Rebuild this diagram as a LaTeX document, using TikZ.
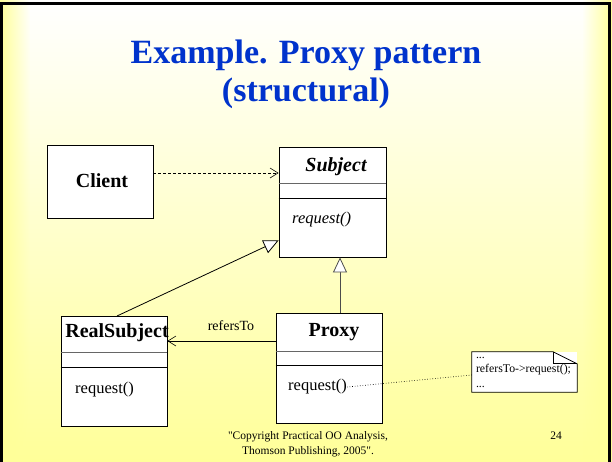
\documentclass[tikz,border=0pt]{standalone}
\usepackage{fontspec}
\setmainfont{Liberation Serif}[Ligatures=TeXOff]
\usetikzlibrary{arrows.meta,calc,fadings}

\definecolor{slideyellow}{RGB}{255,255,153}
\definecolor{titleblue}{RGB}{0,51,204}

\tikzfading[name=fadeleftedge, left color=transparent!0, right color=transparent!100]
\tikzfading[name=faderightedge, left color=transparent!100, right color=transparent!0]

\tikzset{
  classbox/.style={draw, fill=white, line width=0.8pt, minimum width=106pt,
    minimum height=110pt, inner sep=0pt},
  classname/.style={font=\fontsize{20}{24}\selectfont\bfseries, inner sep=0pt},
  opname/.style={font=\fontsize{16.5}{20}\selectfont, inner sep=0pt, anchor=west},
  inherits/.style={-{Triangle[length=15pt,width=14pt,fill=white]}, line width=0.8pt},
  navigates/.style={-{Straight Barb[length=8pt,width=10pt]}, line width=0.6pt},
}

\begin{document}
\begin{tikzpicture}[x=1pt, y=-1pt]
  \useasboundingbox (0,0) rectangle (612,461);
  \clip (0,0) rectangle (612,461);

  % Slide background
  \fill[white] (0,0) rectangle (612,461);
  \shade[top color=white, bottom color=slideyellow] (0,0) rectangle (612,461);
  \fill[slideyellow, path fading=fadeleftedge] (0,0) rectangle (30,461);
  \fill[slideyellow, path fading=faderightedge] (582,0) rectangle (612,461);
  \draw[line width=2.8pt] (1.5,3.2) rectangle (609.8,480);

  % Title
  \node[font=\fontsize{34}{38}\selectfont\bfseries, text=titleblue, anchor=base]
    (title) at (306,63) {Example. Proxy pattern};
  \node[font=\fontsize{34}{38}\selectfont\bfseries, text=titleblue, anchor=base]
    (subtitle) at (306,101) {(structural)};

  % Client
  \node[classbox, minimum height=73pt] (client) at (100,181.5) {};
  \node[classname] (clientname) at (102,181) {Client};

  % Subject
  \node[classbox, minimum width=107pt] (subject) at (332.5,202) {};
  \draw[black!60] ($(subject.north west)+(0,37)$) -- ($(subject.north east)+(0,37)$);
  \draw ($(subject.north west)+(0,52)$) -- ($(subject.north east)+(0,52)$);
  \node[classname, font=\fontsize{20}{24}\selectfont\bfseries\itshape]
    (subjectname) at (336,167) {Subject};
  \node[opname, font=\fontsize{16.5}{20}\selectfont\itshape]
    (subjectop) at (292,220) {request()};

  % RealSubject
  \node[classbox] (realsubject) at (114,371) {};
  \draw[black!60] ($(realsubject.north west)+(0,37)$) -- ($(realsubject.north east)+(0,37)$);
  \draw ($(realsubject.north west)+(0,52)$) -- ($(realsubject.north east)+(0,52)$);
  \node[classname] (realname) at (117,333) {RealSubject};
  \node[opname] (realop) at (75,390) {request()};

  % Proxy
  \node[classbox] (proxy) at (329,368) {};
  \draw[black!60] ($(proxy.north west)+(0,39)$) -- ($(proxy.north east)+(0,39)$);
  \draw ($(proxy.north west)+(0,53)$) -- ($(proxy.north east)+(0,53)$);
  \node[classname] (proxyname) at (334,332) {Proxy};
  \node[opname] (proxyop) at (288,387) {request()};

  % Note
  \node[fill=white, minimum width=105pt, minimum height=40pt, text width=97pt,
    inner xsep=4pt, inner ysep=0pt, align=left,
    font=\fontsize{11.8}{14.5}\selectfont] (note) at (524.5,372)
    {...\\refersTo->request();\\...};
  \draw[line width=0.8pt] (note.north west) -- ($(note.north east)+(-24,0)$)
    -- ($(note.north east)+(0,12)$) -- (note.south east) -- (note.south west) -- cycle;
  \draw[line width=0.8pt] ($(note.north east)+(-24,0)$) |- ($(note.north east)+(0,12)$);

  % Connectors
  \coordinate (clientout) at ($(client.east)+(0,-8.5)$);
  \draw[navigates, dash pattern=on 3pt off 2pt] (clientout) -- (clientout -| subject.west);
  \coordinate (proxytop) at (340,313);
  \draw[inherits, black!70] (proxytop) -- (proxytop |- subject.south);
  \coordinate (realtop) at (117,316);
  \coordinate (subjectin) at ($(subject.south west)+(0,-17)$);
  \draw[inherits] (realtop) -- (subjectin);
  \coordinate (proxyout) at (276,341);
  \draw[navigates] (proxyout) -- (proxyout -| realsubject.east);
  \node[font=\fontsize{14}{16}\selectfont] (refersto) at (231,326) {refersTo};
  \draw[dotted, line width=0.6pt] (proxyop.east) -- ($(note.west)+(0,3)$);

  % Footer
  \node[font=\fontsize{11.5}{15}\selectfont, align=center] (copyright) at (308,444)
    {"Copyright Practical OO Analysis,\\Thomson Publishing, 2005".};
  \node[font=\fontsize{11.5}{15}\selectfont] (pagenum) at (556,436) {24};
\end{tikzpicture}
\end{document}
